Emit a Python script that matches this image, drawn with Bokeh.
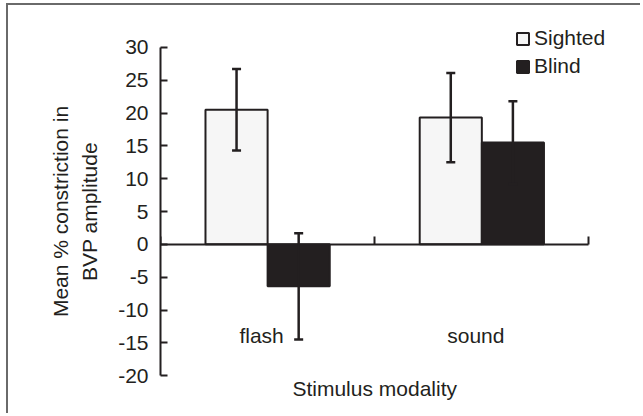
from bokeh.plotting import figure
from bokeh.models import (ColumnDataSource, FixedTicker, LinearAxis, Range1d,
                          Whisker, TeeHead, Legend, LegendItem, Label)
from bokeh.embed import file_html
from bokeh.resources import INLINE

# ---- data ----
categories = ["flash", "sound"]
groups = ["Sighted", "Blind"]
sighted_mean = [20.5, 19.3]
sighted_err = [6.2, 6.8]
blind_mean = [-6.4, 15.5]
blind_err = [8.1, 6.3]
y_ticks = [-20, -15, -10, -5, 0, 5, 10, 15, 20, 25, 30]
y_tick_labels = ["-20", "-15", "-10", "-5", "0", "5", "10", "15", "20", "25", "30"]
x_title = "Stimulus modality"
y_title = "Mean % constriction in\nBVP amplitude"

# ---- styles ----
FONT = "Liberation Sans"
FS = "21px"
DARK = "#231f20"
LIGHT = "#f6f6f6"
BAR_W = 0.29
PAD_Y = 5        # headroom above/below the axis (symmetric, keeps y title centred)
X_END = 2.25     # room right of the axis for the legend text
LABEL_NUDGE = 0.028  # category labels sit slightly left of the group centre

centers = [i + 0.5 for i in range(len(categories))]
label_pos = [round(c - LABEL_NUDGE, 3) for c in centers]
xs_s = [c - BAR_W / 2 for c in centers]
xs_b = [c + BAR_W / 2 for c in centers]

src_s = ColumnDataSource(dict(x=xs_s, top=sighted_mean,
                              up=[m + e for m, e in zip(sighted_mean, sighted_err)],
                              lo=[m - e for m, e in zip(sighted_mean, sighted_err)]))
src_b = ColumnDataSource(dict(x=xs_b, top=blind_mean,
                              up=[m + e for m, e in zip(blind_mean, blind_err)],
                              lo=[m - e for m, e in zip(blind_mean, blind_err)]))

p = figure(width=634, height=410, x_range=Range1d(0, X_END),
           y_range=Range1d(y_ticks[0] - PAD_Y, y_ticks[-1] + PAD_Y),
           output_backend="svg", toolbar_location=None, x_axis_location=None,
           min_border_left=152, min_border_right=0, min_border_top=9, min_border_bottom=7,
           styles={"border-left": "2px solid #6a6a6a", "border-top": "2px solid #6a6a6a",
                   "margin-left": "6px", "margin-top": "3px"})
p.outline_line_color = None
p.grid.grid_line_color = None
p.background_fill_color = "white"

r_s = p.vbar(x="x", top="top", bottom=0, width=BAR_W, source=src_s,
             fill_color=LIGHT, line_color=DARK, line_width=2)
r_b = p.vbar(x="x", top="top", bottom=0, width=BAR_W, source=src_b,
             fill_color=DARK, line_color=DARK, line_width=2)

for src in (src_s, src_b):
    w = Whisker(base="x", upper="up", lower="lo", source=src, level="annotation",
                line_color=DARK, line_width=2.5,
                upper_head=TeeHead(size=9, line_color=DARK, line_width=2.5),
                lower_head=TeeHead(size=9, line_color=DARK, line_width=2.5))
    p.add_layout(w)

# y axis
ya = p.yaxis[0]
ya.bounds = (y_ticks[0], y_ticks[-1])
ya.ticker = FixedTicker(ticks=y_ticks, minor_ticks=[])
ya.major_label_overrides = {t: l for t, l in zip(y_ticks, y_tick_labels)}
ya.major_tick_in = 7
ya.major_tick_out = 0
ya.major_tick_line_width = 2
ya.major_tick_line_color = DARK
ya.axis_line_width = 2
ya.axis_line_color = DARK
ya.major_label_standoff = 12
ya.major_label_text_font = FONT
ya.major_label_text_font_size = FS
ya.major_label_text_color = DARK
ya.axis_label = y_title
ya.axis_label_text_font = FONT
ya.axis_label_text_font_size = FS
ya.axis_label_text_font_style = "normal"
ya.axis_label_text_color = DARK
ya.axis_label_text_line_height = 1.25
ya.axis_label_standoff = 14

# x axis at y = 0
xa = LinearAxis(fixed_location=0, bounds=(0, len(categories)),
                ticker=FixedTicker(ticks=label_pos, minor_ticks=[0] + [c + 0.5 for c in centers]),
                major_label_overrides={c: n for c, n in zip(label_pos, categories)},
                major_tick_line_color=None, major_tick_in=0, major_tick_out=0,
                minor_tick_in=8, minor_tick_out=0, minor_tick_line_width=2,
                minor_tick_line_color=DARK,
                axis_line_width=2, axis_line_color=DARK,
                major_label_standoff=80,
                major_label_text_font=FONT, major_label_text_font_size=FS,
                major_label_text_color=DARK)
p.add_layout(xa, "below")

# x title, centred under the categories
p.add_layout(Label(x=len(categories) / 2, y=y_ticks[0] - 2, text=x_title,
                   text_align="center", text_baseline="middle",
                   text_font=FONT, text_font_size=FS, text_color=DARK))

legend = Legend(items=[LegendItem(label=groups[0], renderers=[r_s]),
                       LegendItem(label=groups[1], renderers=[r_b])],
                location=(355, 330), padding=0, margin=0, spacing=4,
                glyph_width=15, glyph_height=15, label_standoff=4,
                label_text_font=FONT, label_text_font_size=FS, label_text_color=DARK,
                border_line_color=None, background_fill_alpha=0)
p.add_layout(legend, "center")

open("out.html", "w").write(file_html(p, INLINE))
